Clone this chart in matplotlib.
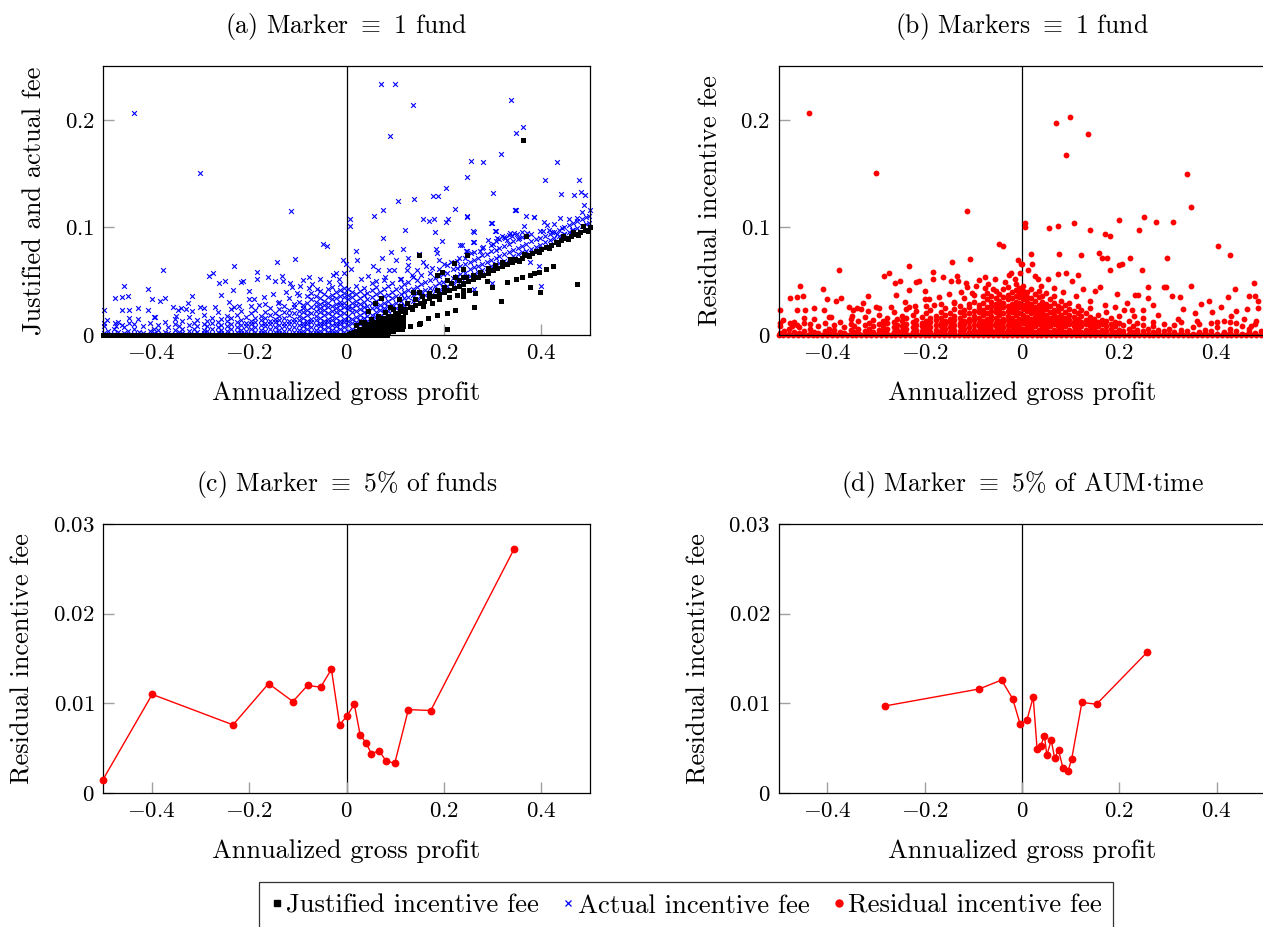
import matplotlib
matplotlib.use("Agg")
import matplotlib.pyplot as plt
from matplotlib.lines import Line2D

plt.rcParams['font.family'] = 'serif'
plt.rcParams['font.serif'] = ['cmr10']
plt.rcParams['mathtext.fontset'] = 'cm'
plt.rcParams['axes.formatter.use_mathtext'] = True
plt.rcParams['axes.unicode_minus'] = True

# ---------------- data ----------------
titles = [r"(a) Marker $\equiv$ 1 fund", r"(b) Markers $\equiv$ 1 fund",
          r"(c) Marker $\equiv$ 5% of funds", r"(d) Marker $\equiv$ 5% of AUM$\cdot$time"]
xlabel = "Annualized gross profit"
ylabels = ["Justified and actual fee", "Residual incentive fee",
           "Residual incentive fee", "Residual incentive fee"]
legend_labels = ["Justified incentive fee", "Actual incentive fee", "Residual incentive fee"]

xticks = [-0.4, -0.2, 0, 0.2, 0.4]
xtick_labels = ["-0.4", "-0.2", "0", "0.2", "0.4"]
yticks_top = [0, 0.1, 0.2]
ytick_labels_top = ["0", "0.1", "0.2"]
yticks_bot = [0, 0.01, 0.02, 0.03]
ytick_labels_bot = ["0", "0.01", "0.02", "0.03"]

# actual incentive fee, funds with negative gross profit (also residual, since justified = 0)
actual_neg = [
    (-0.437, 0.206), (-0.300, 0.151), (-0.113, 0.115), (-0.048, 0.085), (-0.040, 0.083),
    (-0.008, 0.070), (-0.002, 0.066), (-0.106, 0.071), (-0.143, 0.068), (-0.232, 0.064),
    (-0.376, 0.060), (-0.456, 0.046), (-0.408, 0.043), (-0.476, 0.034), (-0.461, 0.035),
    (-0.449, 0.036), (-0.497, 0.023), (-0.461, 0.023), (-0.446, 0.023), (-0.428, 0.025),
    (-0.407, 0.023), (-0.400, 0.033), (-0.382, 0.032), (-0.372, 0.034), (-0.317, 0.036),
    (-0.326, 0.030), (-0.283, 0.055), (-0.274, 0.058), (-0.261, 0.048), (-0.250, 0.050),
    (-0.233, 0.042), (-0.258, 0.037), (-0.217, 0.049), (-0.212, 0.050), (-0.200, 0.041),
    (-0.200, 0.033), (-0.183, 0.059), (-0.183, 0.052), (-0.162, 0.054), (-0.146, 0.050),
    (-0.131, 0.050), (-0.133, 0.055), (-0.116, 0.048), (-0.112, 0.045), (-0.089, 0.051),
    (-0.077, 0.054), (-0.077, 0.044), (-0.055, 0.052), (-0.027, 0.056), (-0.022, 0.058),
    (-0.491, 0.014), (-0.497, 0.011), (-0.476, 0.011), (-0.473, 0.008), (-0.461, 0.009),
    (-0.447, 0.011), (-0.447, 0.016), (-0.428, 0.015), (-0.396, 0.017), (-0.393, 0.017),
    (-0.356, 0.026), (-0.347, 0.023), (-0.339, 0.025), (-0.330, 0.024), (-0.317, 0.022),
    (-0.300, 0.026), (-0.293, 0.025), (-0.241, 0.031), (-0.232, 0.026), (-0.102, 0.039),
    (-0.190, 0.033), (-0.170, 0.035), (-0.150, 0.038), (-0.125, 0.040), (-0.095, 0.046),
    (-0.070, 0.047), (-0.060, 0.043), (-0.035, 0.049), (-0.015, 0.052), (-0.005, 0.058),
    (-0.140, 0.030), (-0.180, 0.028), (-0.220, 0.027), (-0.270, 0.026), (-0.350, 0.018),
]

# dense part of the negative-profit cloud, read column by column
neg_cloud_x = [-0.497, -0.489, -0.478, -0.469, -0.457, -0.448, -0.436, -0.427, -0.418, -0.404,
               -0.396, -0.387, -0.373, -0.366, -0.352, -0.344, -0.337, -0.323, -0.314, -0.306,
               -0.293, -0.286, -0.277, -0.263, -0.257, -0.246, -0.238, -0.224, -0.217, -0.206,
               -0.197, -0.188, -0.176, -0.167, -0.158, -0.147, -0.139, -0.128, -0.119, -0.108,
               -0.098, -0.089, -0.081, -0.072, -0.063, -0.054, -0.047, -0.038, -0.029, -0.021,
               -0.013, -0.006]
neg_cloud_y = [
    [0.002, 0.008], [0.004], [0.001, 0.006], [0.003, 0.012], [0.002, 0.007],
    [0.004], [0.001, 0.006, 0.010], [0.003], [0.002, 0.008], [0.004, 0.011],
    [0.002, 0.006], [0.001, 0.005, 0.009], [0.003, 0.012], [0.002, 0.007],
    [0.001, 0.005, 0.010, 0.015], [0.003, 0.008], [0.002, 0.006, 0.013],
    [0.004, 0.009, 0.017], [0.001, 0.006, 0.011], [0.003, 0.008, 0.014],
    [0.002, 0.005, 0.010, 0.019], [0.004, 0.008, 0.013], [0.001, 0.006, 0.011, 0.016],
    [0.003, 0.007, 0.012, 0.021], [0.002, 0.005, 0.009, 0.015], [0.004, 0.008, 0.013, 0.018],
    [0.001, 0.006, 0.010, 0.016, 0.024], [0.003, 0.007, 0.012, 0.019],
    [0.002, 0.005, 0.009, 0.014, 0.022], [0.004, 0.008, 0.011, 0.017],
    [0.001, 0.006, 0.010, 0.013, 0.020, 0.027], [0.003, 0.007, 0.012, 0.016, 0.023],
    [0.002, 0.005, 0.009, 0.014, 0.018], [0.004, 0.008, 0.011, 0.016, 0.021, 0.029],
    [0.001, 0.006, 0.010, 0.013, 0.019, 0.025], [0.003, 0.007, 0.012, 0.015, 0.020],
    [0.002, 0.005, 0.009, 0.014, 0.018, 0.024, 0.031], [0.004, 0.008, 0.011, 0.016, 0.021, 0.027],
    [0.001, 0.006, 0.010, 0.013, 0.019, 0.023, 0.034], [0.003, 0.007, 0.012, 0.015, 0.020, 0.026, 0.029],
    [0.002, 0.005, 0.009, 0.014, 0.018, 0.022, 0.031, 0.037],
    [0.004, 0.008, 0.011, 0.016, 0.021, 0.025, 0.028],
    [0.001, 0.006, 0.010, 0.013, 0.019, 0.023, 0.030, 0.036],
    [0.003, 0.007, 0.012, 0.015, 0.020, 0.026, 0.033, 0.039],
    [0.002, 0.005, 0.009, 0.014, 0.018, 0.022, 0.027, 0.031, 0.036],
    [0.004, 0.008, 0.011, 0.016, 0.021, 0.025, 0.029, 0.034, 0.041],
    [0.001, 0.006, 0.010, 0.013, 0.019, 0.023, 0.028, 0.032, 0.038],
    [0.003, 0.007, 0.012, 0.015, 0.020, 0.026, 0.030, 0.035, 0.043],
    [0.002, 0.005, 0.009, 0.014, 0.018, 0.022, 0.027, 0.033, 0.037, 0.045],
    [0.004, 0.008, 0.011, 0.016, 0.021, 0.025, 0.029, 0.034, 0.040],
    [0.001, 0.006, 0.010, 0.013, 0.019, 0.023, 0.028, 0.031, 0.036, 0.042, 0.047],
    [0.003, 0.007, 0.012, 0.015, 0.020, 0.026, 0.030, 0.035, 0.039, 0.044],
]

# actual incentive fee, funds with positive gross profit (sparse points)
actual_pos = [
    (0.071, 0.233), (0.099, 0.233), (0.136, 0.214), (0.090, 0.185), (0.338, 0.218),
    (0.362, 0.193), (0.348, 0.188), (0.318, 0.168), (0.256, 0.162), (0.281, 0.161),
    (0.433, 0.161), (0.247, 0.147), (0.408, 0.144), (0.478, 0.144), (0.205, 0.137),
    (0.300, 0.132), (0.106, 0.125), (0.139, 0.126), (0.177, 0.129), (0.188, 0.129),
    (0.440, 0.131), (0.468, 0.130), (0.481, 0.133), (0.489, 0.130), (0.488, 0.121),
    (0.499, 0.116), (0.223, 0.117), (0.008, 0.108), (0.008, 0.101), (0.056, 0.111),
    (0.075, 0.116), (0.158, 0.108), (0.170, 0.106), (0.179, 0.108), (0.205, 0.105),
    (0.209, 0.108), (0.248, 0.110), (0.298, 0.104), (0.307, 0.097), (0.345, 0.116),
    (0.348, 0.116), (0.368, 0.111), (0.386, 0.110), (0.405, 0.105), (0.411, 0.102),
    (0.439, 0.109), (0.463, 0.098), (0.474, 0.109), (0.483, 0.114), (0.121, 0.098),
    (0.181, 0.096), (0.075, 0.090), (0.197, 0.087), (0.260, 0.097), (0.260, 0.086),
    (0.238, 0.084), (0.246, 0.078), (0.019, 0.078), (0.021, 0.070), (0.073, 0.072),
    (0.091, 0.077), (0.102, 0.070), (0.117, 0.080), (0.126, 0.072), (0.149, 0.075),
    (0.158, 0.068), (0.163, 0.064), (0.184, 0.080), (0.186, 0.076), (0.190, 0.070),
    (0.009, 0.061), (0.054, 0.064), (0.064, 0.060), (0.087, 0.060), (0.097, 0.060),
    (0.124, 0.060), (0.127, 0.065), (0.134, 0.056), (0.403, 0.097), (0.415, 0.098),
    (0.422, 0.096), (0.432, 0.094), (0.442, 0.099), (0.447, 0.094), (0.385, 0.110),
    (0.364, 0.101), (0.343, 0.095), (0.346, 0.116), (0.297, 0.104), (0.305, 0.097),
    (0.261, 0.096), (0.247, 0.111), (0.233, 0.084), (0.261, 0.086), (0.247, 0.078),
    (0.376, 0.068), (0.396, 0.064), (0.400, 0.046), (0.262, 0.043), (0.299, 0.048),
    (0.030, 0.052), (0.045, 0.055), (0.060, 0.050), (0.080, 0.054), (0.110, 0.052),
    (0.145, 0.060), (0.175, 0.062), (0.200, 0.066), (0.230, 0.072), (0.280, 0.082),
    (0.300, 0.085), (0.310, 0.090), (0.320, 0.092), (0.330, 0.088), (0.335, 0.095),
    (0.340, 0.092), (0.350, 0.094), (0.355, 0.090), (0.360, 0.096), (0.290, 0.088),
    (0.275, 0.078), (0.255, 0.076), (0.215, 0.068), (0.325, 0.090), (0.370, 0.095),
]

# dense band of actual fees above the justified line, read column by column
pos_cloud_x = [0.004, 0.012, 0.019, 0.027, 0.036, 0.043, 0.052, 0.061, 0.068, 0.077,
               0.086, 0.093, 0.102, 0.111, 0.118, 0.127, 0.136, 0.144, 0.153, 0.161,
               0.172, 0.181, 0.189, 0.198, 0.207, 0.218, 0.226, 0.234, 0.243, 0.254,
               0.262, 0.271, 0.279, 0.288, 0.297, 0.306, 0.314, 0.323, 0.333, 0.341,
               0.352, 0.361, 0.369, 0.378, 0.389, 0.397, 0.408, 0.417, 0.426, 0.437,
               0.446, 0.457, 0.466, 0.474, 0.483, 0.492, 0.498]
pos_cloud_y = [
    [0.004, 0.009, 0.013, 0.018, 0.024, 0.027, 0.033, 0.037, 0.043],
    [0.006, 0.011, 0.015, 0.021, 0.025, 0.030, 0.035, 0.040],
    [0.008, 0.012, 0.017, 0.022, 0.028, 0.032, 0.038, 0.046],
    [0.010, 0.014, 0.019, 0.024, 0.029, 0.034, 0.041],
    [0.011, 0.016, 0.021, 0.026, 0.031, 0.037, 0.044],
    [0.013, 0.018, 0.023, 0.027, 0.033, 0.039],
    [0.015, 0.019, 0.025, 0.030, 0.035, 0.042, 0.048],
    [0.017, 0.021, 0.026, 0.032, 0.038, 0.045],
    [0.018, 0.023, 0.028, 0.034, 0.040],
    [0.020, 0.025, 0.030, 0.036, 0.043, 0.051],
    [0.022, 0.027, 0.032, 0.037, 0.046],
    [0.023, 0.028, 0.034, 0.040, 0.048],
    [0.025, 0.030, 0.036, 0.043],
    [0.027, 0.032, 0.038, 0.045, 0.052],
    [0.028, 0.034, 0.040, 0.047],
    [0.030, 0.035, 0.042, 0.049],
    [0.032, 0.037, 0.043, 0.054],
    [0.033, 0.039, 0.045, 0.051],
    [0.035, 0.040, 0.047, 0.056],
    [0.037, 0.042, 0.049],
    [0.039, 0.044, 0.051, 0.058],
    [0.041, 0.046, 0.053],
    [0.042, 0.048, 0.055, 0.061],
    [0.044, 0.049, 0.057],
    [0.046, 0.051, 0.058, 0.065],
    [0.048, 0.053, 0.061],
    [0.050, 0.055, 0.062, 0.069],
    [0.051, 0.057, 0.064],
    [0.053, 0.058, 0.066, 0.072],
    [0.055, 0.061, 0.068],
    [0.057, 0.063, 0.070, 0.077],
    [0.059, 0.064, 0.072],
    [0.060, 0.066, 0.074, 0.081],
    [0.062, 0.068, 0.075],
    [0.064, 0.070, 0.078, 0.084],
    [0.066, 0.072, 0.079, 0.087],
    [0.067, 0.073, 0.081, 0.089],
    [0.069, 0.075, 0.083, 0.091],
    [0.071, 0.077, 0.085, 0.093],
    [0.073, 0.079, 0.087],
    [0.075, 0.081, 0.089],
    [0.077, 0.083, 0.091],
    [0.078, 0.085],
    [0.080, 0.087, 0.094],
    [0.082, 0.089],
    [0.084, 0.090, 0.097],
    [0.086, 0.092],
    [0.088, 0.094],
    [0.090, 0.096, 0.103],
    [0.092, 0.098],
    [0.094, 0.100],
    [0.096, 0.102, 0.108],
    [0.098, 0.104],
    [0.099, 0.106],
    [0.101, 0.108],
    [0.103, 0.110],
    [0.104, 0.111],
]

# justified incentive fee: funds at zero
justified_zero_x = [
    -0.500, -0.492, -0.484, -0.476, -0.468, -0.460, -0.452, -0.444, -0.436, -0.428,
    -0.420, -0.412, -0.404, -0.396, -0.388, -0.380, -0.372, -0.364, -0.356, -0.348,
    -0.340, -0.332, -0.324, -0.316, -0.308, -0.300, -0.292, -0.284, -0.276, -0.268,
    -0.260, -0.252, -0.244, -0.236, -0.228, -0.220, -0.212, -0.204, -0.196, -0.188,
    -0.180, -0.172, -0.164, -0.156, -0.148, -0.140, -0.132, -0.124, -0.116, -0.108,
    -0.100, -0.092, -0.084, -0.076, -0.068, -0.060, -0.052, -0.044, -0.036, -0.028,
    -0.020, -0.012, -0.004, 0.004, 0.012, 0.020, 0.028, 0.036, 0.044, 0.052, 0.060,
    0.068, 0.076, 0.084,
]

# justified incentive fee: positive values
justified = [
    # main band
    (0.010, 0.002), (0.020, 0.004), (0.030, 0.006), (0.040, 0.008), (0.050, 0.010),
    (0.060, 0.012), (0.070, 0.014), (0.080, 0.016), (0.090, 0.018), (0.100, 0.020),
    (0.110, 0.022), (0.120, 0.024), (0.130, 0.026), (0.140, 0.028), (0.150, 0.030),
    (0.160, 0.032), (0.170, 0.034), (0.180, 0.036), (0.190, 0.038), (0.200, 0.040),
    (0.210, 0.042), (0.220, 0.044), (0.230, 0.046), (0.240, 0.048), (0.250, 0.050),
    (0.260, 0.052), (0.270, 0.054), (0.280, 0.056), (0.290, 0.058), (0.300, 0.060),
    (0.310, 0.062), (0.320, 0.064), (0.330, 0.066), (0.340, 0.068), (0.350, 0.070),
    (0.360, 0.072), (0.370, 0.074), (0.380, 0.076), (0.390, 0.078), (0.400, 0.080),
    (0.410, 0.082), (0.420, 0.084), (0.430, 0.086), (0.440, 0.088), (0.450, 0.090),
    (0.460, 0.092), (0.470, 0.094), (0.480, 0.096), (0.490, 0.098), (0.500, 0.100),
    (0.020, 0.009), (0.035, 0.012), (0.050, 0.015), (0.065, 0.018), (0.080, 0.021),
    (0.095, 0.024), (0.110, 0.027), (0.125, 0.030), (0.140, 0.033), (0.155, 0.036),
    (0.170, 0.039), (0.185, 0.042), (0.200, 0.045), (0.215, 0.048), (0.230, 0.051),
    (0.245, 0.054), (0.260, 0.056), (0.275, 0.059), (0.290, 0.062), (0.305, 0.065),
    (0.320, 0.068), (0.335, 0.071), (0.445, 0.092), (0.465, 0.096), (0.485, 0.101),
    (0.355, 0.069), (0.375, 0.073), (0.395, 0.077), (0.415, 0.081), (0.435, 0.085),
    (0.455, 0.089), (0.475, 0.093), (0.495, 0.097), (0.345, 0.071), (0.365, 0.075),
    # lower lines
    (0.045, 0.008), (0.060, 0.010), (0.075, 0.013), (0.090, 0.016), (0.105, 0.019),
    (0.120, 0.021), (0.135, 0.024), (0.158, 0.027), (0.175, 0.030), (0.190, 0.033),
    (0.210, 0.035), (0.227, 0.037), (0.240, 0.040), (0.251, 0.042), (0.288, 0.050),
    (0.299, 0.045), (0.329, 0.049), (0.348, 0.052), (0.360, 0.054), (0.376, 0.056),
    (0.385, 0.058), (0.396, 0.059), (0.409, 0.061), (0.425, 0.064),
    (0.114, 0.006), (0.130, 0.008), (0.148, 0.010), (0.168, 0.016),
    (0.186, 0.019), (0.206, 0.020), (0.223, 0.023), (0.150, 0.011),
    # scattered
    (0.045, 0.022), (0.059, 0.030), (0.071, 0.034), (0.107, 0.033), (0.137, 0.040),
    (0.148, 0.040), (0.149, 0.074), (0.220, 0.067), (0.196, 0.059), (0.186, 0.056),
    (0.206, 0.051), (0.223, 0.054), (0.240, 0.061), (0.247, 0.074), (0.362, 0.181),
    (0.368, 0.092), (0.473, 0.047), (0.398, 0.040), (0.318, 0.032), (0.261, 0.026),
    (0.206, 0.006), (0.240, 0.054), (0.240, 0.047), (0.240, 0.042), (0.240, 0.036),
    (0.264, 0.039), (0.376, 0.045), (0.030, 0.012), (0.090, 0.026),
]

# dense wedge of justified fees near the origin, read column by column
wedge_x = [0.005, 0.015, 0.025, 0.035, 0.045, 0.055, 0.065, 0.075, 0.085, 0.095, 0.105, 0.115]
wedge_y = [
    [0.001], [0.001, 0.003], [0.001, 0.004, 0.006], [0.002, 0.005, 0.008],
    [0.001, 0.004, 0.007, 0.010], [0.002, 0.005, 0.008, 0.012],
    [0.001, 0.004, 0.007, 0.010, 0.014], [0.002, 0.006, 0.009, 0.012, 0.016],
    [0.003, 0.006, 0.010, 0.014, 0.018], [0.004, 0.008, 0.012, 0.016],
    [0.006, 0.010, 0.014, 0.018], [0.008, 0.013, 0.017],
]

# residual incentive fee for funds with positive gross profit (sparse points)
residual_pos = [
    (0.070, 0.197), (0.099, 0.203), (0.135, 0.187), (0.090, 0.167), (0.338, 0.150),
    (0.347, 0.119), (0.007, 0.104), (0.007, 0.100), (0.056, 0.099), (0.074, 0.101),
    (0.106, 0.104), (0.139, 0.098), (0.171, 0.094), (0.180, 0.092), (0.199, 0.107),
    (0.241, 0.098), (0.250, 0.110), (0.275, 0.105), (0.311, 0.105), (0.402, 0.083),
    (0.428, 0.074), (0.159, 0.076), (0.165, 0.072), (0.175, 0.072), (0.180, 0.060),
    (0.200, 0.065), (0.206, 0.066), (0.222, 0.072), (0.246, 0.060), (0.298, 0.072),
    (0.295, 0.045), (0.259, 0.045), (0.325, 0.035), (0.346, 0.046), (0.384, 0.032),
    (0.422, 0.035), (0.437, 0.043), (0.466, 0.036), (0.476, 0.048), (0.479, 0.036),
    (0.485, 0.032), (0.019, 0.075), (0.075, 0.075), (0.121, 0.074), (0.012, 0.060),
    (0.001, 0.066), (0.021, 0.066), (0.026, 0.055), (0.032, 0.052), (0.054, 0.052),
    (0.073, 0.057), (0.091, 0.058), (0.115, 0.056), (0.102, 0.050), (0.233, 0.037),
    (0.259, 0.034), (0.210, 0.023), (0.225, 0.023), (0.249, 0.023), (0.307, 0.036),
    (0.238, 0.037), (0.368, 0.029), (0.409, 0.026), (0.462, 0.024), (0.485, 0.025),
    (0.292, 0.045), (0.150, 0.041), (0.160, 0.045), (0.125, 0.043), (0.195, 0.038),
    (0.215, 0.030), (0.270, 0.028), (0.330, 0.024), (0.355, 0.020), (0.390, 0.021),
    (0.430, 0.018), (0.415, 0.013), (0.455, 0.015), (0.440, 0.022), (0.470, 0.008),
    (0.040, 0.046), (0.065, 0.044), (0.085, 0.040), (0.110, 0.036), (0.140, 0.032),
    (0.170, 0.028), (0.190, 0.026), (0.230, 0.018), (0.280, 0.019), (0.320, 0.015),
    (0.360, 0.013), (0.400, 0.012), (0.440, 0.011), (0.480, 0.013), (0.500, 0.018),
]

# dense residual cloud for positive profit, read column by column
res_cloud_x = [0.003, 0.011, 0.018, 0.026, 0.034, 0.042, 0.049, 0.057, 0.066, 0.073,
               0.081, 0.089, 0.097, 0.106, 0.114, 0.122, 0.131, 0.139, 0.148, 0.156,
               0.164, 0.173, 0.182, 0.191, 0.199, 0.208, 0.219, 0.228, 0.237, 0.248,
               0.258, 0.268, 0.279, 0.291, 0.302, 0.313, 0.326, 0.338, 0.351, 0.363,
               0.376, 0.388, 0.401, 0.414, 0.427, 0.439, 0.452, 0.466, 0.478, 0.491]
res_cloud_y = [
    [0.002, 0.006, 0.011, 0.015, 0.019, 0.024, 0.028, 0.033, 0.037, 0.041, 0.046],
    [0.004, 0.008, 0.013, 0.017, 0.022, 0.026, 0.031, 0.035, 0.040],
    [0.001, 0.006, 0.010, 0.015, 0.020, 0.024, 0.029, 0.034, 0.043],
    [0.003, 0.008, 0.012, 0.017, 0.021, 0.026, 0.032, 0.038],
    [0.002, 0.005, 0.010, 0.014, 0.019, 0.023, 0.028, 0.035, 0.041],
    [0.004, 0.008, 0.012, 0.017, 0.021, 0.026, 0.031, 0.036],
    [0.001, 0.006, 0.010, 0.015, 0.019, 0.024, 0.029, 0.039],
    [0.003, 0.008, 0.012, 0.016, 0.021, 0.027, 0.033],
    [0.002, 0.005, 0.010, 0.014, 0.019, 0.023, 0.030, 0.036],
    [0.004, 0.008, 0.012, 0.017, 0.022, 0.027],
    [0.001, 0.006, 0.010, 0.015, 0.019, 0.025, 0.032],
    [0.003, 0.008, 0.012, 0.016, 0.021, 0.028],
    [0.002, 0.005, 0.010, 0.014, 0.019, 0.024, 0.030],
    [0.004, 0.008, 0.012, 0.017, 0.022],
    [0.001, 0.006, 0.010, 0.015, 0.020, 0.027],
    [0.003, 0.008, 0.012, 0.018, 0.023],
    [0.002, 0.005, 0.010, 0.014, 0.020],
    [0.004, 0.008, 0.013, 0.017, 0.025],
    [0.001, 0.006, 0.010, 0.015],
    [0.003, 0.008, 0.012, 0.019],
    [0.002, 0.005, 0.010, 0.014],
    [0.004, 0.008, 0.013, 0.021],
    [0.001, 0.006, 0.010, 0.016],
    [0.003, 0.008, 0.012],
    [0.002, 0.005, 0.011, 0.018],
    [0.004, 0.009],
    [0.001, 0.006, 0.013],
    [0.003, 0.008],
    [0.002, 0.005, 0.011],
    [0.004, 0.009, 0.016],
    [0.001, 0.006],
    [0.003, 0.008, 0.012],
    [0.002, 0.005],
    [0.004, 0.010],
    [0.001, 0.006],
    [0.003, 0.009],
    [0.002, 0.005, 0.012],
    [0.004],
    [0.001, 0.007],
    [0.003, 0.010],
    [0.002, 0.005],
    [0.004, 0.011],
    [0.001, 0.007],
    [0.003],
    [0.002, 0.006, 0.012],
    [0.004],
    [0.001, 0.008],
    [0.003, 0.006],
    [0.002, 0.010],
    [0.004],
]

# funds whose residual fee is zero
residual_zero_x = [
    -0.500, -0.490, -0.480, -0.470, -0.460, -0.450, -0.440, -0.430, -0.420, -0.410,
    -0.400, -0.390, -0.380, -0.370, -0.360, -0.350, -0.340, -0.330, -0.320, -0.310,
    -0.300, -0.290, -0.280, -0.270, -0.260, -0.250, -0.240, -0.230, -0.220, -0.210,
    -0.200, -0.190, -0.180, -0.170, -0.160, -0.150, -0.140, -0.130, -0.120, -0.110,
    -0.100, -0.090, -0.080, -0.070, -0.060, -0.050, -0.040, -0.030, -0.020, -0.010,
    0.000, 0.010, 0.020, 0.030, 0.040, 0.050, 0.060, 0.070, 0.080, 0.090, 0.100,
    0.110, 0.120, 0.130, 0.140, 0.150, 0.160, 0.170, 0.180, 0.190, 0.200, 0.210,
    0.220, 0.230, 0.240, 0.250, 0.260, 0.270, 0.280, 0.290, 0.300, 0.310, 0.320,
    0.330, 0.340, 0.350, 0.360, 0.370, 0.380, 0.390, 0.400, 0.410, 0.420, 0.430,
    0.440, 0.450, 0.460, 0.470, 0.480, 0.490, 0.500,
]

# (c) binned by 5% of funds
c_x = [-0.500, -0.399, -0.233, -0.160, -0.110, -0.080, -0.053, -0.031, -0.014, 0.001,
       0.016, 0.028, 0.040, 0.051, 0.067, 0.081, 0.099, 0.127, 0.173, 0.344]
c_y = [0.0015, 0.0110, 0.0076, 0.0122, 0.0102, 0.0120, 0.0118, 0.0138, 0.0076, 0.0086,
       0.0099, 0.0065, 0.0056, 0.0044, 0.0047, 0.0036, 0.0033, 0.0093, 0.0092, 0.0272]

# (d) binned by 5% of AUM*time
d_x = [-0.282, -0.088, -0.042, -0.019, -0.004, 0.010, 0.023, 0.031, 0.038, 0.046,
       0.051, 0.060, 0.067, 0.075, 0.084, 0.095, 0.102, 0.123, 0.153, 0.257]
d_y = [0.0097, 0.0116, 0.0126, 0.0105, 0.0077, 0.0081, 0.0107, 0.0049, 0.0052, 0.0064,
       0.0042, 0.0059, 0.0039, 0.0048, 0.0028, 0.0025, 0.0038, 0.0101, 0.0099, 0.0157]

# ---------------- drawing ----------------
BLUE = "#0000ff"
RED = "#ff0000"
TICK_GRAY = "#a0a0a0"
FS_TITLE = 18.5
FS_LABEL = 19
FS_TICK = 16.5
FS_LEGEND = 19.2

fig = plt.figure(figsize=(12.63, 9.27), dpi=100)
W, H = 1263.0, 927.0
ax_w = 487 / W
ax_h = 269 / H
axes = [
    fig.add_axes([103 / W, (H - 335) / H, ax_w, ax_h]),
    fig.add_axes([778.5 / W, (H - 335) / H, ax_w, ax_h]),
    fig.add_axes([103 / W, (H - 793) / H, ax_w, ax_h]),
    fig.add_axes([778.5 / W, (H - 793) / H, ax_w, ax_h]),
]


def unzip(pairs):
    return [p[0] for p in pairs], [p[1] for p in pairs]


def flatten_cols(xs, ys):
    fx, fy = [], []
    for x, col in zip(xs, ys):
        for y in col:
            fx.append(x)
            fy.append(y)
    return fx, fy


def mtext(s):
    return "$" + s + "$"


for i, ax in enumerate(axes):
    ax.set_xlim(-0.5, 0.5)
    if i < 2:
        ax.set_ylim(0, 0.25)
        ax.set_yticks(yticks_top)
        ax.set_yticklabels([mtext(s) for s in ytick_labels_top])
    else:
        ax.set_ylim(0, 0.03)
        ax.set_yticks(yticks_bot)
        ax.set_yticklabels([mtext(s) for s in ytick_labels_bot])
    ax.set_xticks(xticks)
    ax.set_xticklabels([mtext(s) for s in xtick_labels])
    ax.tick_params(direction="in", length=8, width=1.0, color=TICK_GRAY,
                   labelsize=FS_TICK, pad=6, top=False, right=False)
    for sp in ax.spines.values():
        sp.set_linewidth(0.9)
        sp.set_color("black")
    ax.axvline(0, color="black", lw=0.9, zorder=1)
    ax.set_title(titles[i], fontsize=FS_TITLE, pad=24)
    ax.set_xlabel(xlabel, fontsize=FS_LABEL, labelpad=13)
    ax.set_ylabel(ylabels[i], fontsize=FS_LABEL, labelpad=13)

# point sets
neg_x, neg_y = unzip(actual_neg)
ncx, ncy = flatten_cols(neg_cloud_x, neg_cloud_y)
neg_x, neg_y = neg_x + ncx, neg_y + ncy

pos_x, pos_y = unzip(actual_pos)
pcx, pcy = flatten_cols(pos_cloud_x, pos_cloud_y)
act_x = neg_x + pos_x + pcx
act_y = neg_y + pos_y + pcy

jx, jy = unzip(justified)
wx, wy = flatten_cols(wedge_x, wedge_y)
jus_x = justified_zero_x + jx + wx
jus_y = [0.0] * len(justified_zero_x) + jy + wy

rpx, rpy = unzip(residual_pos)
rcx, rcy = flatten_cols(res_cloud_x, res_cloud_y)
res_x = neg_x + rpx + rcx + residual_zero_x
res_y = neg_y + rpy + rcy + [0.0] * len(residual_zero_x)

# (a)
ax = axes[0]
ax.scatter(act_x, act_y, marker="x", s=3.4 ** 2, c=BLUE, linewidths=0.8, zorder=2, clip_on=False)
ax.scatter(jus_x, jus_y, marker="s", s=3.6 ** 2, c="black", linewidths=0, zorder=3, clip_on=False)

# (b)
axes[1].scatter(res_x, res_y, marker="o", s=4.2 ** 2, c=RED, linewidths=0, zorder=2, clip_on=False)

# (c), (d)
axes[2].plot(c_x, c_y, color=RED, lw=1.0, marker="o", ms=4.6, mec=RED, mfc=RED, zorder=3, clip_on=False)
axes[3].plot(d_x, d_y, color=RED, lw=1.0, marker="o", ms=4.6, mec=RED, mfc=RED, zorder=3, clip_on=False)

handles = [
    Line2D([], [], ls="none", marker="s", ms=4.2, color="black"),
    Line2D([], [], ls="none", marker="x", ms=5, mew=0.9, color=BLUE),
    Line2D([], [], ls="none", marker="o", ms=5, color=RED),
]
leg = fig.legend(handles, legend_labels, loc="upper center", bbox_to_anchor=(686 / W, 1 - 882 / H),
                 ncol=3, fontsize=FS_LEGEND, frameon=True, fancybox=False, edgecolor="black",
                 handlelength=0.5, handletextpad=0.09, columnspacing=0.85, borderpad=0.45,
                 borderaxespad=0)
leg.get_frame().set_linewidth(0.9)

fig.savefig("out.png", dpi=100)
